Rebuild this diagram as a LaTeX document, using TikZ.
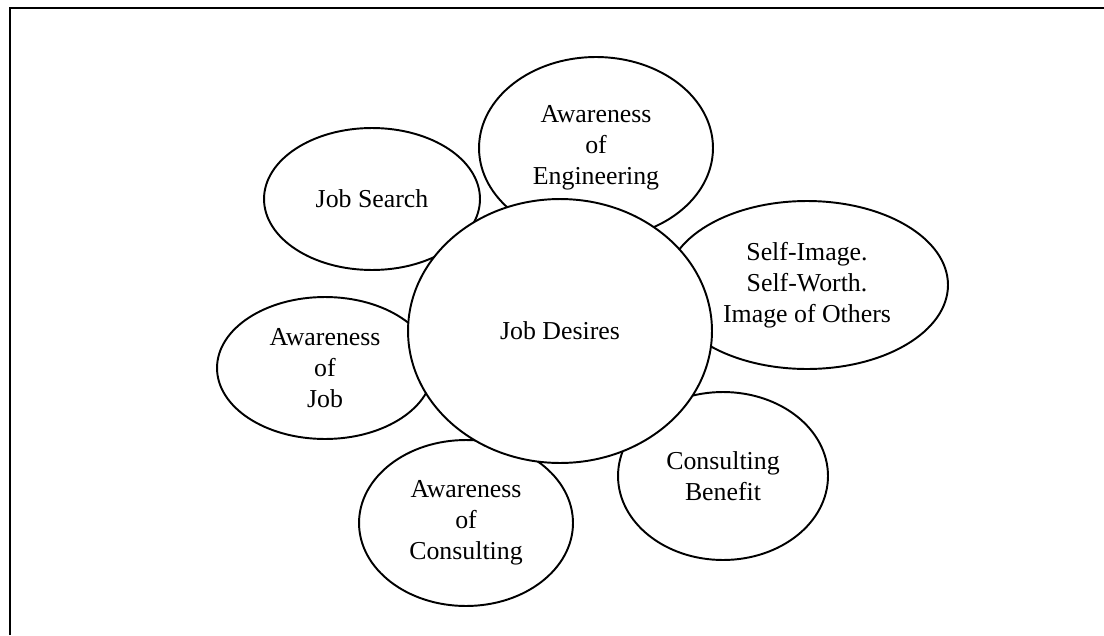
\documentclass[tikz,border=0pt]{standalone}
\usepackage{fontspec}
\setmainfont{Liberation Serif}
\usetikzlibrary{shapes.geometric}

\begin{document}
\begin{tikzpicture}[x=0.02cm, y=-0.02cm,
			bubble/.style={draw, ellipse, fill=white, line width=1.1pt, inner sep=0pt, align=center, font=\fontsize{14.7}{17.6}\selectfont},
			frame/.style={line width=1.4pt}
			]
			
			\useasboundingbox (0,0) rectangle (1104,635);
			
			% Frame
			\draw[frame] (10,635) |- (1104,8);
			
			% Satellites
			\node[bubble, minimum width=4.68cm, minimum height=3.64cm] (engineering) at (596,148) {Awareness\\of\\Engineering};
			\node[bubble, minimum width=4.32cm, minimum height=2.84cm] (search) at (372,199) {Job Search};
			\node[bubble, minimum width=5.64cm, minimum height=3.36cm] (self) at (807,285) {Self-Image.\\Self-Worth.\\Image of Others};
			\node[bubble, minimum width=4.32cm, minimum height=2.84cm] (job) at (325,368) {Awareness\\of\\Job};
			\node[bubble, minimum width=4.20cm, minimum height=3.36cm] (benefit) at (723,476) {Consulting\\Benefit};
			\node[bubble, minimum width=4.28cm, minimum height=3.32cm] (consulting) at (466,523) {Awareness\\of\\Consulting};
			
			% Core
			\node[bubble, minimum width=6.08cm, minimum height=5.28cm] (desires) at (560,331) {Job Desires};
			
		\end{tikzpicture}
\end{document}
